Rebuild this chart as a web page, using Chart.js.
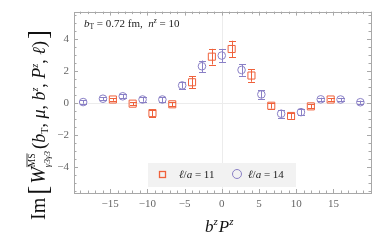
<!DOCTYPE html>
<html>
<head>
<meta charset="utf-8">
<script src="https://cdn.jsdelivr.net/npm/chart.js@4.4.1/dist/chart.umd.min.js"></script>
<style>
  html, body { margin: 0; padding: 0; background: #fff; }
  #wrap { width: 382px; height: 243px; }
</style>
</head>
<body>
<div id="wrap"><canvas id="chart" width="382" height="243"></canvas></div>
<script>
// ell/a = 11 (squares)
const redX = [-14.63, -11.97, -9.31, -6.65, -3.99, -1.33, 1.33, 3.99, 6.65, 9.31, 11.97, 14.63]
const redY = [0.2, -0.06, -0.65, -0.1, 1.28, 2.88, 3.36, 1.7, -0.19, -0.83, -0.23, 0.2]
const redErr = [0.08, 0.1, 0.22, 0.12, 0.36, 0.49, 0.52, 0.39, 0.18, 0.18, 0.12, 0.08]

// ell/a = 14 (circles)
const blueX = [-18.62, -15.96, -13.3, -10.64, -7.98, -5.32, -2.66, 0, 2.66, 5.32, 7.98, 10.64, 13.3, 15.96, 18.62]
const blueY = [0.04, 0.25, 0.4, 0.2, 0.2, 1.08, 2.28, 2.95, 2.05, 0.52, -0.69, -0.59, 0.21, 0.2, 0.03]
const blueErr = [0.1, 0.1, 0.12, 0.14, 0.16, 0.2, 0.36, 0.42, 0.36, 0.26, 0.24, 0.2, 0.1, 0.1, 0.1]

const xTicks = [-15, -10, -5, 0, 5, 10, 15]
const yTicks = [-4, -2, 0, 2, 4]
const xMinor = 1
const yMinor = 0.5

const RED = "#ef613b"
const BLUE = "#8a80c6"
const SERIF = "'Liberation Serif', 'DejaVu Serif', serif"

function toPoints(xs, ys) {
    return xs.map((x, i) => ({x: x, y: ys[i]}))
}

function fmt(v) {
    return v < 0 ? "\u2212" + Math.abs(v) : String(v)
}

// draws a row of text runs, returns the width
function drawRuns(ctx, runs, x, y) {
    let cx = x
    runs.forEach(r => {
        ctx.font = r.font
        ctx.fillText(r.text, cx, y + (r.dy || 0))
        let w = ctx.measureText(r.text).width
        if (r.over) {
            ctx.beginPath()
            ctx.lineWidth = 0.8
            ctx.moveTo(cx, y + r.dy - r.over)
            ctx.lineTo(cx + w, y + r.dy - r.over)
            ctx.stroke()
        }
        if (!r.stack) cx += w + (r.gap || 0)
    })
    return cx - x
}

const framePlugin = {
    id: "frame",
    beforeDatasetsDraw(chart) {
        const ctx = chart.ctx
        const a = chart.chartArea
        const xs = chart.scales.x, ys = chart.scales.y
        ctx.save()
        // faint zero lines
        ctx.strokeStyle = "#ececec"
        ctx.lineWidth = 1
        ctx.beginPath()
        let x0 = Math.round(xs.getPixelForValue(0)) + 0.5
        let y0 = Math.round(ys.getPixelForValue(0)) + 0.5
        ctx.moveTo(x0, a.top); ctx.lineTo(x0, a.bottom)
        ctx.moveTo(a.left, y0); ctx.lineTo(a.right, y0)
        ctx.stroke()

        // frame
        ctx.strokeStyle = "#a8a8a8"
        ctx.strokeRect(Math.round(a.left) + 0.5, Math.round(a.top) + 0.5,
            Math.round(a.right - a.left), Math.round(a.bottom - a.top))

        // inside ticks on all four sides
        ctx.beginPath()
        for (let v = Math.ceil(xs.min); v <= xs.max; v += xMinor) {
            let len = (v % 5 === 0) ? 4 : 2.5
            let px = Math.round(xs.getPixelForValue(v)) + 0.5
            ctx.moveTo(px, a.bottom); ctx.lineTo(px, a.bottom - len)
            ctx.moveTo(px, a.top); ctx.lineTo(px, a.top + len)
        }
        for (let v = Math.ceil(ys.min / yMinor) * yMinor; v <= ys.max; v += yMinor) {
            let len = (Math.abs(v % 2) < 1e-6) ? 4 : 2.5
            let py = Math.round(ys.getPixelForValue(v)) + 0.5
            ctx.moveTo(a.left, py); ctx.lineTo(a.left + len, py)
            ctx.moveTo(a.right, py); ctx.lineTo(a.right - len, py)
        }
        ctx.stroke()
        ctx.restore()
    },
    afterDatasetsDraw(chart) {
        const ctx = chart.ctx
        const ys = chart.scales.y
        ctx.save()
        ctx.lineWidth = 1
        chart.data.datasets.forEach((ds, di) => {
            const meta = chart.getDatasetMeta(di)
            ctx.strokeStyle = ds.borderColor
            ctx.beginPath()
            meta.data.forEach((el, i) => {
                let px = Math.round(el.x) + 0.5
                let top = ys.getPixelForValue(ds.data[i].y + ds.errors[i])
                let bot = ys.getPixelForValue(ds.data[i].y - ds.errors[i])
                ctx.moveTo(px, top); ctx.lineTo(px, bot)
                ctx.moveTo(px - 3.5, Math.round(top) + 0.5); ctx.lineTo(px + 3.5, Math.round(top) + 0.5)
                ctx.moveTo(px - 3.5, Math.round(bot) + 0.5); ctx.lineTo(px + 3.5, Math.round(bot) + 0.5)
            })
            ctx.stroke()
        })
        ctx.restore()
    },
    afterDraw(chart) {
        const ctx = chart.ctx
        const a = chart.chartArea
        ctx.save()
        ctx.fillStyle = "#222"
        ctx.textBaseline = "alphabetic"

        // annotation
        drawRuns(ctx, [
            {text: "b", font: "italic 11px " + SERIF},
            {text: "T", font: "7.5px " + SERIF, dy: 2},
            {text: " = 0.72 fm,  ", font: "11px " + SERIF},
            {text: "n", font: "italic 11px " + SERIF},
            {text: "z", font: "italic 7.5px " + SERIF, dy: -4},
            {text: " = 10", font: "11px " + SERIF}
        ], a.left + 10, a.top + 15)

        // legend
        let lx = 148, ly = 163
        ctx.fillStyle = "#f2f2f2"
        ctx.fillRect(lx, ly, 148, 24)
        ctx.lineWidth = 1.3
        ctx.strokeStyle = RED
        ctx.strokeRect(lx + 11.5, ly + 8.5, 6, 6)
        ctx.lineWidth = 1
        ctx.strokeStyle = BLUE
        ctx.beginPath()
        ctx.arc(lx + 89, ly + 11, 4.5, 0, Math.PI * 2)
        ctx.stroke()
        ctx.fillStyle = "#222"
        const leg = (lab) => [
            {text: "\u2113", font: "italic 11px " + SERIF},
            {text: "/", font: "11px " + SERIF},
            {text: "a", font: "italic 11px " + SERIF},
            {text: " = " + lab, font: "11px " + SERIF}
        ]
        chart.data.datasets.forEach((ds, i) => {
            drawRuns(ctx, leg(ds.label), lx + (i === 0 ? 31 : 100), ly + 15)
        })

        // x title
        ctx.fillStyle = "#111"
        drawRuns(ctx, [
            {text: "b", font: "italic 17px " + SERIF},
            {text: "z", font: "italic 11px " + SERIF, dy: -7, gap: 1},
            {text: "P", font: "italic 17px " + SERIF},
            {text: "z", font: "italic 11px " + SERIF, dy: -7}
        ], 205, 232)

        // y title, rotated
        ctx.translate(45, 220)
        ctx.rotate(-Math.PI / 2)
        ctx.strokeStyle = "#111"
        drawRuns(ctx, [
            {text: "Im", font: "20px " + SERIF, gap: 3},
            {text: "[", font: "27px " + SERIF, dy: 2, gap: 2},
            {text: "W", font: "italic 20px " + SERIF},
            {text: "MS", font: "9.5px " + SERIF, dy: -10, over: 8, stack: true},
            {text: "\u03b33\u03b33", font: "italic 9px " + SERIF, dy: 5, gap: 2},
            {text: "(", font: "19px " + SERIF},
            {text: "b", font: "italic 18px " + SERIF},
            {text: "T", font: "10px " + SERIF, dy: 3},
            {text: ", ", font: "18px " + SERIF},
            {text: "\u03bc", font: "italic 18px " + SERIF},
            {text: ", ", font: "18px " + SERIF},
            {text: "b", font: "italic 18px " + SERIF},
            {text: "z", font: "italic 10px " + SERIF, dy: -7},
            {text: ", ", font: "18px " + SERIF},
            {text: "P", font: "italic 18px " + SERIF},
            {text: "z", font: "italic 10px " + SERIF, dy: -7},
            {text: ", ", font: "18px " + SERIF},
            {text: "\u2113", font: "italic 18px " + SERIF},
            {text: ")", font: "19px " + SERIF, gap: 2},
            {text: "]", font: "27px " + SERIF, dy: 2}
        ], 0, 0)
        ctx.restore()
    }
}

const ctx = document.getElementById("chart").getContext("2d")
const chart = new Chart(ctx, {
    type: "scatter",
    data: {
        datasets: [
            {
                label: "11",
                data: toPoints(redX, redY),
                errors: redErr,
                pointStyle: "rect",
                pointRadius: 5,
                borderColor: RED,
                backgroundColor: "rgba(0,0,0,0)",
                borderWidth: 1
            },
            {
                label: "14",
                data: toPoints(blueX, blueY),
                errors: blueErr,
                pointStyle: "circle",
                pointRadius: 3.8,
                borderColor: BLUE,
                backgroundColor: "rgba(0,0,0,0)",
                borderWidth: 1
            }
        ]
    },
    options: {
        responsive: false,
        animation: false,
        devicePixelRatio: 1,
        layout: {padding: {left: 0, top: 11, right: 11, bottom: 0}},
        plugins: {legend: {display: false}, tooltip: {enabled: false}},
        scales: {
            x: {
                type: "linear",
                min: -19.85,
                max: 20.05,
                grid: {display: false, drawTicks: false},
                border: {display: false},
                afterBuildTicks: s => { s.ticks = xTicks.map(v => ({value: v})) },
                afterFit: s => { s.height = 50 },
                ticks: {
                    callback: v => fmt(v),
                    font: {family: SERIF, size: 11},
                    color: "#666",
                    padding: 5,
                    maxRotation: 0
                }
            },
            y: {
                type: "linear",
                min: -5.65,
                max: 5.7,
                grid: {display: false, drawTicks: false},
                border: {display: false},
                afterBuildTicks: s => { s.ticks = yTicks.map(v => ({value: v})) },
                afterFit: s => { s.width = 74 },
                ticks: {
                    callback: v => fmt(v),
                    font: {family: SERIF, size: 11},
                    color: "#666",
                    padding: 5
                }
            }
        }
    },
    plugins: [framePlugin]
})
</script>
</body>
</html>
